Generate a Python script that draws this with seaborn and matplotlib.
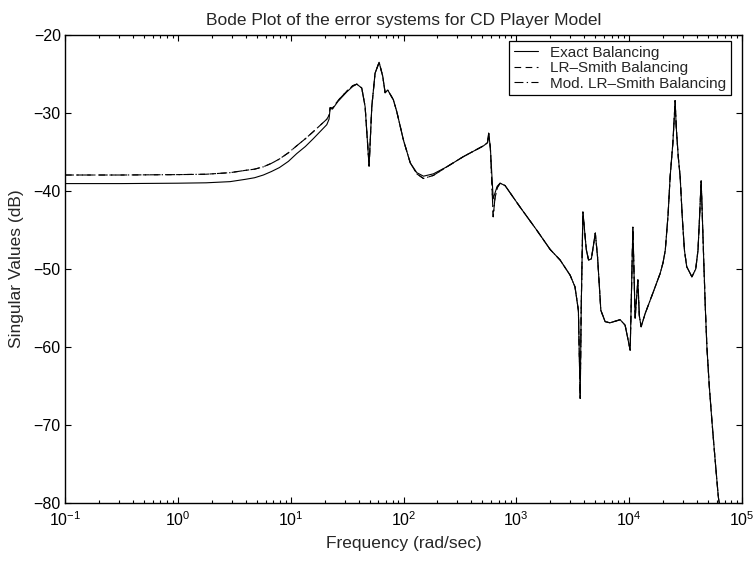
import numpy as np
import pandas as pd
import matplotlib
matplotlib.use("Agg")
import matplotlib.pyplot as plt
import seaborn as sns
from matplotlib.ticker import LogLocator, NullFormatter, FixedLocator, LogFormatterSciNotation
from matplotlib.lines import Line2D

# ---------------- data ----------------
freq_log10 = [
    -1.0, -0.5, 0.0, 0.25, 0.463, 0.6, 0.68, 0.758, 0.83, 0.9,
    0.98, 1.054, 1.13, 1.2, 1.26, 1.32, 1.34, 1.35, 1.37, 1.42,
    1.497, 1.55, 1.586, 1.63, 1.66, 1.695, 1.719, 1.748, 1.784, 1.816,
    1.837, 1.86, 1.91, 1.94, 2.0, 2.06, 2.118, 2.177, 2.265, 2.384,
    2.53, 2.71, 2.745, 2.755, 2.77, 2.795, 2.81, 2.83, 2.856, 2.9,
    3.03, 3.18, 3.3, 3.388, 3.477, 3.52, 3.55, 3.566, 3.575, 3.59,
    3.62, 3.64, 3.665, 3.70, 3.72, 3.749, 3.787, 3.83, 3.92, 3.964,
    3.985, 4.009, 4.033, 4.053, 4.077, 4.09, 4.106, 4.142, 4.215, 4.275,
    4.30, 4.32, 4.345, 4.363, 4.387, 4.40, 4.407, 4.418, 4.435, 4.452,
    4.472, 4.49, 4.51, 4.556, 4.59, 4.61, 4.625, 4.638, 4.648, 4.66,
    4.675, 4.689, 4.71, 4.733, 4.762, 4.79, 4.83,
]

exact_db = [
    -39.05, -39.05, -39.0, -38.95, -38.8, -38.5, -38.3, -37.95, -37.5, -37.0,
    -36.2, -35.2, -34.3, -33.3, -32.4, -31.5, -30.8, -29.4, -29.5, -28.5,
    -27.3, -26.6, -26.3, -26.8, -29.2, -36.8, -29.2, -24.9, -23.5, -25.3,
    -27.4, -27.05, -28.3, -29.8, -33.5, -36.4, -37.65, -38.1, -37.8, -36.9,
    -35.6, -34.2, -33.8, -32.6, -34.5, -41.0, -40.3, -39.4, -39.0, -39.3,
    -42.0, -45.0, -47.5, -48.85, -50.8, -52.3, -55.3, -66.6, -55.0, -42.7,
    -47.5, -48.85, -48.7, -45.4, -48.5, -55.3, -56.75, -56.9, -56.5, -57.2,
    -58.7, -60.4, -44.65, -56.3, -51.4, -56.0, -57.4, -55.7, -52.9, -50.55,
    -49.2, -47.6, -43.0, -38.2, -33.9, -30.5, -28.4, -32.0, -35.6, -38.2,
    -43.7, -47.6, -49.7, -51.0, -50.0, -47.6, -43.0, -38.7, -43.0, -48.5,
    -55.0, -60.0, -65.0, -69.4, -74.5, -79.2, -83.0,
]

lr_smith_db = [
    -37.95, -37.95, -37.9, -37.85, -37.65, -37.35, -37.2, -36.9, -36.45, -35.9,
    -35.1, -34.2, -33.3, -32.4, -31.6, -30.8, -30.3, -29.3, -29.4, -28.4,
    -27.2, -26.5, -26.3, -26.8, -29.2, -36.8, -29.2, -24.9, -23.5, -25.3,
    -27.4, -27.05, -28.3, -29.8, -33.5, -36.4, -37.8, -38.4, -38.0, -36.9,
    -35.6, -34.2, -33.8, -32.6, -34.5, -43.3, -41.0, -39.6, -39.0, -39.3,
    -42.0, -45.0, -47.5, -48.85, -50.8, -52.3, -55.3, -66.6, -55.0, -42.7,
    -47.5, -48.85, -48.7, -45.4, -48.5, -55.3, -56.75, -56.9, -56.5, -57.2,
    -58.7, -60.4, -44.65, -56.3, -51.4, -56.0, -57.4, -55.7, -52.9, -50.55,
    -49.2, -47.6, -43.0, -38.2, -33.9, -30.5, -28.4, -32.0, -35.6, -38.2,
    -43.7, -47.6, -49.7, -51.0, -50.0, -47.6, -43.0, -38.7, -43.0, -48.5,
    -55.0, -60.0, -65.0, -69.4, -74.5, -79.2, -83.0,
]

mod_lr_smith_db = [
    -37.95, -37.95, -37.9, -37.85, -37.65, -37.35, -37.2, -36.9, -36.45, -35.9,
    -35.1, -34.2, -33.3, -32.4, -31.6, -30.8, -30.3, -29.3, -29.4, -28.4,
    -27.2, -26.5, -26.3, -26.8, -29.2, -36.8, -29.2, -24.9, -23.5, -25.3,
    -27.4, -27.05, -28.3, -29.8, -33.5, -36.4, -37.8, -38.4, -38.0, -36.9,
    -35.6, -34.2, -33.8, -32.6, -34.5, -43.3, -41.0, -39.6, -39.0, -39.3,
    -42.0, -45.0, -47.5, -48.85, -50.8, -52.3, -55.3, -66.6, -55.0, -42.7,
    -47.5, -48.85, -48.7, -45.4, -48.5, -55.3, -56.75, -56.9, -56.5, -57.2,
    -58.7, -60.4, -44.65, -56.3, -51.4, -56.0, -57.4, -55.7, -52.9, -50.55,
    -49.2, -47.6, -43.0, -38.2, -33.9, -30.5, -28.4, -32.0, -35.6, -38.2,
    -43.7, -47.6, -49.7, -51.0, -50.0, -47.6, -43.0, -38.7, -43.0, -48.5,
    -55.0, -60.0, -65.0, -69.4, -74.5, -79.2, -83.0,
]

series_names = ["Exact Balancing", "LR\u2013Smith Balancing", "Mod. LR\u2013Smith Balancing"]
x_ticks = [1e-1, 1e0, 1e1, 1e2, 1e3, 1e4, 1e5]
y_ticks = [-80, -70, -60, -50, -40, -30, -20]

# ---------------- styling ----------------
sns.set_style("ticks")
plt.rcParams["font.family"] = ["Liberation Sans", "DejaVu Sans"]
plt.rcParams["font.size"] = 12
plt.rcParams["mathtext.fontset"] = "custom"
plt.rcParams["mathtext.rm"] = "Liberation Sans"
plt.rcParams["mathtext.it"] = "Liberation Sans:italic"

fig = plt.figure(figsize=(7.54, 5.62), dpi=100)
ax = fig.add_axes([65 / 754, 59 / 562, 677 / 754, 468 / 562])

freq = np.power(10.0, np.array(freq_log10))
all_series = [exact_db, lr_smith_db, mod_lr_smith_db]
dash_patterns = [None, (6.0, 4.0), (8.0, 3.0, 1.2, 3.0)]

handles = []
for name, vals, dp in zip(series_names, all_series, dash_patterns):
    df = pd.DataFrame({"freq": freq, "db": vals})
    sns.lineplot(data=df, x="freq", y="db", ax=ax, color="black",
                 linewidth=0.8, estimator=None, sort=False)
    ln = ax.lines[-1]
    if dp is not None:
        ln.set_dashes(dp)
    h = Line2D([], [], color="black", linewidth=0.8)
    if dp is not None:
        h.set_dashes(dp)
    handles.append(h)

ax.set_xscale("log")
ax.set_xlim(0.1, 1e5)
ax.set_ylim(-80, -20)
ax.yaxis.set_major_locator(FixedLocator(y_ticks))
ax.xaxis.set_major_locator(FixedLocator(x_ticks))
ax.xaxis.set_minor_locator(LogLocator(base=10, subs=np.arange(2, 10), numticks=100))
ax.xaxis.set_minor_formatter(NullFormatter())
ax.xaxis.set_major_formatter(LogFormatterSciNotation())

for sp in ax.spines.values():
    sp.set_visible(True)
    sp.set_linewidth(1.0)
    sp.set_color("black")

ax.tick_params(which="both", direction="in", top=True, right=True,
               colors="black", labelsize=11.5, width=0.8)
ax.tick_params(which="major", length=4.3)
ax.tick_params(which="minor", length=2.2)
ax.tick_params(axis="x", which="major", pad=5.5)
ax.tick_params(axis="y", which="major", pad=3)

ax.set_xlabel("Frequency (rad/sec)", fontsize=12.5, labelpad=5)
ax.set_ylabel("Singular Values (dB)", fontsize=12.5, labelpad=7)
ax.set_title("Bode Plot of the error systems for CD Player Model", fontsize=12.5, pad=7)

leg = ax.legend(handles, series_names, loc="upper right",
                bbox_to_anchor=((731 - 65) / 677, (503 - 41) / 468),
                borderaxespad=0, fancybox=False, frameon=True, fontsize=11,
                handlelength=1.6, handletextpad=0.8, labelspacing=0.1,
                borderpad=0.3)
leg.get_frame().set_edgecolor("black")
leg.get_frame().set_linewidth(0.9)
leg.get_frame().set_alpha(1.0)

fig.savefig("out.png", dpi=100)
